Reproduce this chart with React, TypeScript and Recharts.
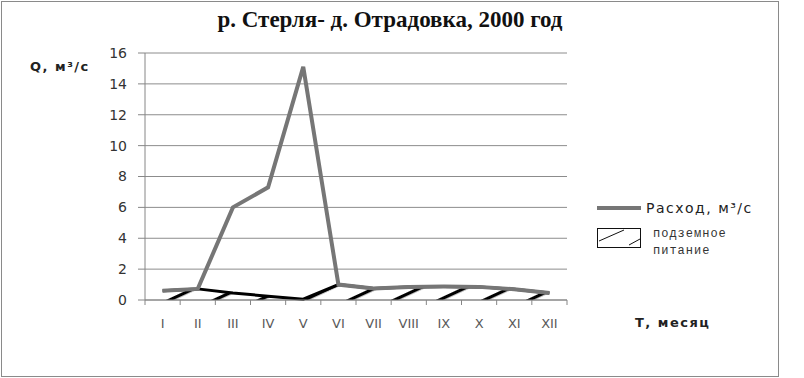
import { ComposedChart, Line, Area, XAxis, YAxis, CartesianGrid } from "recharts";

// месяцы и расходы, м3/с
const months = ["I", "II", "III", "IV", "V", "VI", "VII", "VIII", "IX", "X", "XI", "XII"];
const rashod = [0.6, 0.72, 6.0, 7.3, 15.1, 1.0, 0.75, 0.85, 0.87, 0.85, 0.7, 0.45];
const podzemnoe = [0.6, 0.72, 0.45, 0.25, 0.05, 1.0, 0.75, 0.85, 0.87, 0.85, 0.7, 0.45];
const yTicks = [0, 2, 4, 6, 8, 10, 12, 14, 16];

const data = months.map((m, i) => ({ month: m, rashod: rashod[i], podzemnoe: podzemnoe[i] }));

const W = 804;
const H = 378;
const margin = { top: 53, right: 237, bottom: 48, left: 100 };
const BAND = (W - margin.left - margin.right - 45) / months.length;

const MonthTick = (props: any) => {
    const { x, y, payload, index } = props;
    const half = BAND / 2;
    return (
        <g>
            <line x1={x - half} x2={x - half} y1={y} y2={y + 5} stroke="#868686" />
            {index === months.length - 1 && (
                <line x1={x + half} x2={x + half} y1={y} y2={y + 5} stroke="#868686" />
            )}
            <text x={x} y={y + 28} textAnchor="middle" fill="#5a5a5a" fontSize={13} fontFamily="DejaVu Sans">
                {payload.value}
            </text>
        </g>
    );
};

const LegendBox = () => (
    <div style={{ position: "absolute", left: 597, top: 198, fontFamily: "DejaVu Sans", color: "#222" }}>
        <div style={{ display: "flex", alignItems: "center", height: 20 }}>
            <svg width={48} height={10}>
                <line x1={0} x2={44} y1={5} y2={5} stroke="#767676" strokeWidth={4} />
            </svg>
            <span style={{ fontSize: 14, letterSpacing: 1.5, marginLeft: 1 }}>Расход, м³/с</span>
        </div>
        <div style={{ display: "flex", alignItems: "flex-start", marginTop: 10 }}>
            <svg width={46} height={22}>
                <rect x={0.5} y={0.5} width={43} height={19} fill="#fff" stroke="#111" />
                <line x1={2} y1={13} x2={27} y2={2} stroke="#111" />
                <line x1={32} y1={17} x2={43} y2={11} stroke="#111" />
            </svg>
            <div style={{ fontFamily: "'Liberation Mono', monospace", fontSize: 12, letterSpacing: 1, lineHeight: "17px", marginLeft: 10, marginTop: -2, color: "#333" }}>
                подземное<br />питание
            </div>
        </div>
    </div>
);

export default function App() {
    return (
        <div style={{ position: "absolute", left: 0, top: 0, width: W, height: H, background: "#fff" }}>
            <div style={{ position: "absolute", left: 1, top: 1, width: 776, height: 374, border: "1.5px solid #8a8a8a" }} />
            <div style={{
                position: "absolute", left: 0, width: 780, top: 7, textAlign: "center",
                fontFamily: "Liberation Serif", fontWeight: "bold", fontSize: 23, color: "#111"
            }}>
                р. Стерля- д. Отрадовка, 2000 год
            </div>
            <div style={{ position: "absolute", left: 30, top: 59, fontFamily: "DejaVu Sans", fontWeight: "bold", fontSize: 13, letterSpacing: 1.5, color: "#222" }}>
                Q, м³/с
            </div>
            <div style={{ position: "absolute", left: 635, top: 315, fontFamily: "DejaVu Sans", fontWeight: "bold", fontSize: 13, letterSpacing: 1.5, color: "#222" }}>
                Т, месяц
            </div>
            <ComposedChart width={W} height={H} data={data} margin={margin} style={{ position: "absolute", left: 0, top: 0 }}>
                <defs>
                    <pattern id="hatch" patternUnits="userSpaceOnUse" width={19} height={19} patternTransform="rotate(65)">
                        <line x1={1.5} y1={0} x2={1.5} y2={19} stroke="#000" strokeWidth={3.5} />
                    </pattern>
                </defs>
                <CartesianGrid vertical={false} stroke="#8c8c8c" />
                <XAxis
                    dataKey="month"
                    scale="band"
                    axisLine={{ stroke: "#868686" }}
                    tickLine={false}
                    tickSize={0}
                    tickMargin={0}
                    tick={<MonthTick />}
                    interval={0}
                    height={30}
                />
                <YAxis
                    domain={[0, 16]}
                    ticks={yTicks}
                    width={45}
                    axisLine={{ stroke: "#868686" }}
                    tickLine={{ stroke: "#868686" }}
                    tickSize={7}
                    tickMargin={11}
                    tick={{ fill: "#333", fontSize: 14, fontFamily: "DejaVu Sans" }}
                />
                <Area
                    dataKey="podzemnoe"
                    name="подземное питание"
                    type="linear"
                    stroke="#000"
                    strokeWidth={3}
                    fill="url(#hatch)"
                    fillOpacity={1}
                    isAnimationActive={false}
                />
                <Line
                    dataKey="rashod"
                    name="Расход, м³/с"
                    type="linear"
                    stroke="#767676"
                    strokeWidth={4}
                    dot={false}
                    activeDot={false}
                    isAnimationActive={false}
                />
            </ComposedChart>
            <LegendBox />
        </div>
    );
}
